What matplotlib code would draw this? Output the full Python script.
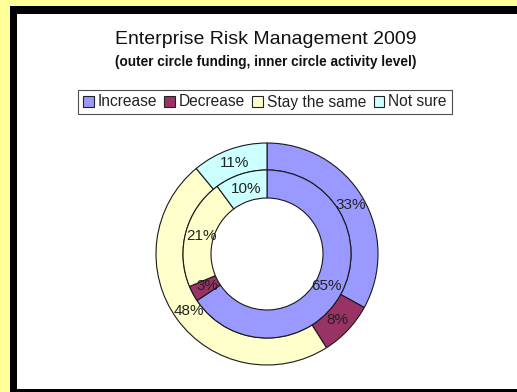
import matplotlib
matplotlib.use('Agg')
import matplotlib.pyplot as plt
from matplotlib.patches import Rectangle, Patch

plt.rcParams['font.family'] = ['Liberation Sans', 'DejaVu Sans']

# data
categories = ['Increase', 'Decrease', 'Stay the same', 'Not sure']
funding = [33, 8, 48, 11]      # outer circle
activity = [65, 3, 21, 10]     # inner circle
colors = ['#9999FF', '#993366', '#FFFFCC', '#CCFFFF']

W, H = 517, 392
fig = plt.figure(figsize=(W / 100, H / 100), dpi=100)
fig.patch.set_facecolor('#FFFF99')

# black frame and white plot area (behind the axes)
fig.add_artist(Rectangle((10 / W, 0), 1 - 10 / W, 1 - 6 / H, zorder=-3,
                         transform=fig.transFigure, facecolor='black', edgecolor='none'))
fig.add_artist(Rectangle((17 / W, 3 / H), 1 - 17 / W, 1 - 17 / H, zorder=-2,
                         transform=fig.transFigure, facecolor='white', edgecolor='none'))

fig.text(266 / W, 1 - 40 / H, 'Enterprise Risk Management 2009',
         ha='center', va='center', fontsize=14, color='#111111')
fig.text(266 / W, 1 - 62 / H, '(outer circle funding, inner circle activity level)',
         ha='center', va='center', fontsize=9.8, fontweight='bold', color='#111111')

# pie axes: centre (267, 254) px, outer radius 111 px
cx, cy, R = 267, H - 254, 111
ax = fig.add_axes([(cx - R) / W, (cy - R) / H, 2 * R / W, 2 * R / H])
ax.axis('off')

r_mid = 84 / 111
r_hole = 56 / 111
edge = dict(edgecolor='#1a1a1a', linewidth=0.8)
txt = dict(fontsize=11, color='#222222')

ax.pie(funding, radius=1, colors=colors, startangle=90, counterclock=False,
       wedgeprops=dict(width=1 - r_mid, **edge),
       autopct=lambda p: f'{p * sum(funding) / 100:.0f}%',
       pctdistance=0.875, textprops=txt)
ax.pie(activity, radius=r_mid, colors=colors, startangle=90, counterclock=False,
       wedgeprops=dict(width=r_mid - r_hole, **edge),
       autopct=lambda p: f'{p * sum(activity) / 100:.0f}%',
       pctdistance=0.81, textprops=txt)
ax.set_xlim(-1, 1)
ax.set_ylim(-1, 1)

handles = [Patch(facecolor=c, edgecolor='#222222', linewidth=0.8) for c in colors]
leg = fig.legend(handles, categories, loc='center', bbox_to_anchor=(265 / W, 1 - 102 / H),
                 ncol=4, frameon=True, fontsize=11.2, handlelength=0.7, handleheight=0.7,
                 handletextpad=0.25, columnspacing=0.45, borderpad=0.3, fancybox=False)
leg.get_frame().set_edgecolor('#222222')
leg.get_frame().set_linewidth(0.8)
for t in leg.get_texts():
    t.set_color('#222222')

fig.savefig('out.png', dpi=100, facecolor=fig.get_facecolor())
